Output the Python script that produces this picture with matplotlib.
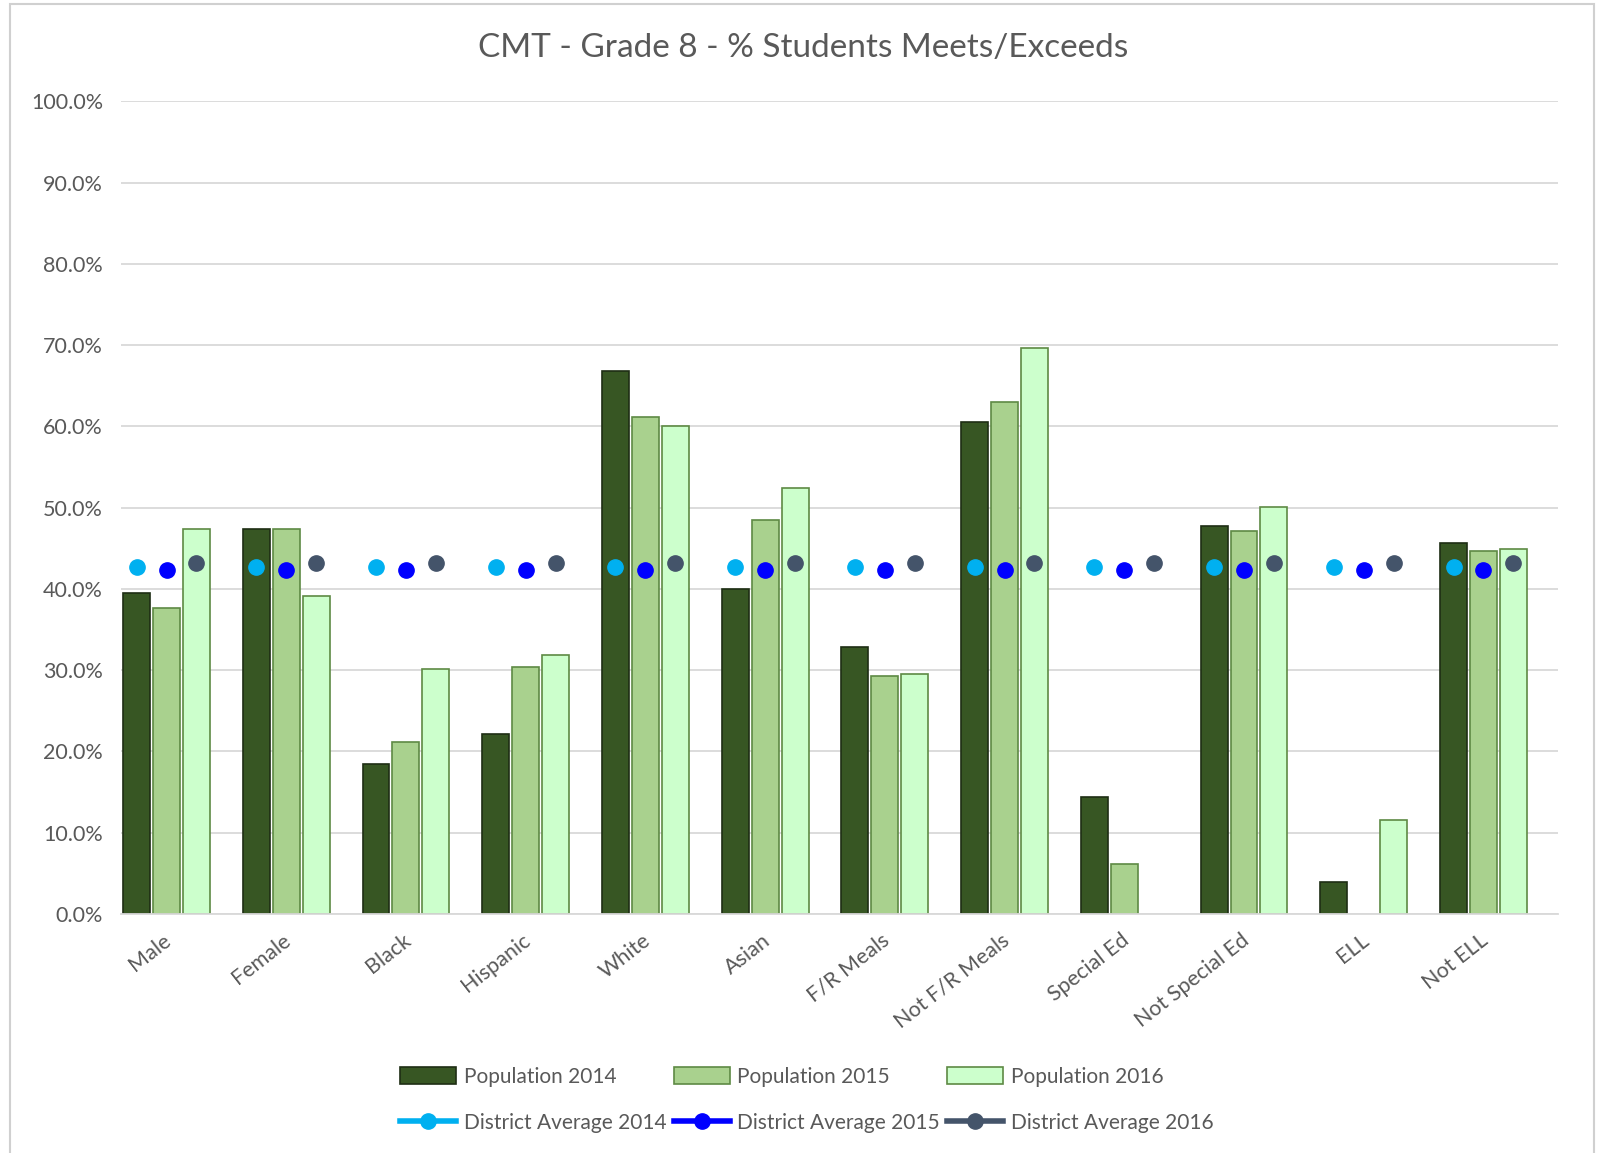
import numpy as np
import matplotlib
matplotlib.use("Agg")
import matplotlib.pyplot as plt
from matplotlib.lines import Line2D
from matplotlib.patches import Patch, Rectangle
from matplotlib.ticker import PercentFormatter
from matplotlib.transforms import ScaledTranslation

plt.rcParams['font.family'] = ['Lato', 'DejaVu Sans']

categories = ["Male", "Female", "Black", "Hispanic", "White", "Asian", "F/R Meals",
              "Not F/R Meals", "Special Ed", "Not Special Ed", "ELL", "Not ELL"]

pop_2014 = [39.5, 47.4, 18.4, 22.2, 66.8, 40.0, 32.8, 60.6, 14.4, 47.7, 3.9, 45.7]
pop_2015 = [37.6, 47.4, 21.2, 30.4, 61.2, 48.5, 29.3, 63.0, 6.1, 47.1, np.nan, 44.7]
pop_2016 = [47.4, 39.1, 30.1, 31.9, 60.1, 52.4, 29.5, 69.6, np.nan, 50.1, 11.6, 44.9]

dist_2014 = [42.7] * 12
dist_2015 = [42.3] * 12
dist_2016 = [43.2] * 12

bar_colors = ["#375623", "#A9D18E", "#CCFFCC"]
bar_edges = ["#1E2E14", "#5E8A44", "#5E8A44"]
dot_colors = ["#00B0F0", "#0000FF", "#44546A"]
txt = "#595959"

fig = plt.figure(figsize=(16.07, 11.53), dpi=100)
ax = fig.add_axes([0.0753, 0.2073, 0.894, 0.7047])

x = np.arange(len(categories))
offsets = [-0.37, -0.12, 0.13]
pops = [pop_2014, pop_2015, pop_2016]
dists = [dist_2014, dist_2015, dist_2016]
years = ["2014", "2015", "2016"]

for i in range(3):
    ax.bar(x + offsets[i], pops[i], width=0.225, color=bar_colors[i],
           edgecolor=bar_edges[i], linewidth=1.2, zorder=2)
for i in range(3):
    ax.plot(x + offsets[i], dists[i], linestyle='none', marker='o',
            markersize=11, color=dot_colors[i], zorder=3)

ax.set_xlim(-0.5, 11.5)
ax.set_ylim(0, 100)
ax.set_yticks(np.arange(0, 101, 10))
ax.yaxis.set_major_formatter(PercentFormatter(decimals=1))
ax.grid(axis='y', color="#D9D9D9", linewidth=1.3, zorder=0)
ax.set_axisbelow(True)
for s in ["top", "right", "left"]:
    ax.spines[s].set_visible(False)
ax.spines["bottom"].set_color("#D9D9D9")
ax.spines["bottom"].set_linewidth(1.3)
ax.tick_params(axis='y', length=0, pad=13, labelsize=15.5, labelcolor=txt)
ax.tick_params(axis='x', length=0, pad=6, labelsize=15.5, labelcolor=txt)
ax.set_xticks(x)
ax.set_xticklabels(categories, rotation=38, ha='right', va='top', rotation_mode='anchor')
shift = ScaledTranslation(-18 / 100, -8 / 100, fig.dpi_scale_trans)
for lab in ax.get_xticklabels():
    lab.set_transform(lab.get_transform() + shift)

fig.text(0.5, 0.958, "CMT - Grade 8 - % Students Meets/Exceeds", ha='center', va='center',
         fontsize=24, color=txt)

handles = []
labels = []
for i in range(3):
    handles.append(Patch(facecolor=bar_colors[i], edgecolor=bar_edges[i], linewidth=1.2))
    labels.append("Population " + years[i])
    handles.append(Line2D([0], [0], color=dot_colors[i], linewidth=4, marker='o', markersize=11))
    labels.append("District Average " + years[i])

fig.legend(handles, labels, ncol=3, loc='center', bbox_to_anchor=(0.502, 0.046),
           frameon=False, fontsize=15, labelcolor=txt, handlelength=2.7,
           handletextpad=0.35, columnspacing=0.35, labelspacing=1.25, handleheight=0.9)

fig.patches.append(Rectangle((10 / 1607, -0.01), 1584 / 1607, 1.0065, transform=fig.transFigure,
                             fill=False, edgecolor="#D0D0D0", linewidth=1.5))

fig.savefig("out.png", dpi=100)
